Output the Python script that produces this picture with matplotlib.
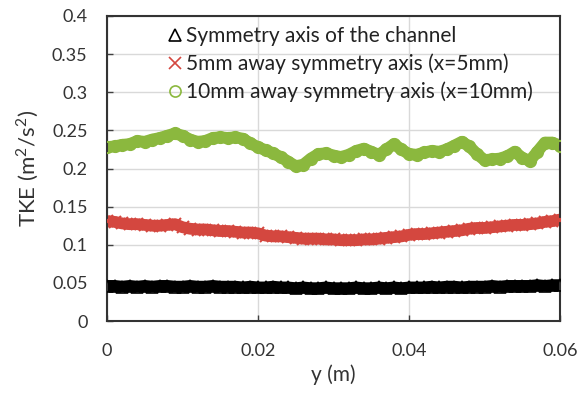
import matplotlib
matplotlib.use("Agg")
import matplotlib.pyplot as plt
from matplotlib.ticker import FuncFormatter

plt.rcParams['font.family'] = ['Lato', 'DejaVu Sans']
plt.rcParams['mathtext.fontset'] = 'custom'
plt.rcParams['mathtext.rm'] = 'Lato'

# y position (m)
y_pos = [0.000, 0.001, 0.002, 0.003, 0.004, 0.005, 0.006, 0.007, 0.008, 0.009,
         0.010, 0.011, 0.012, 0.013, 0.014, 0.015, 0.016, 0.017, 0.018, 0.019,
         0.020, 0.021, 0.022, 0.023, 0.024, 0.025, 0.026, 0.027, 0.028, 0.029,
         0.030, 0.031, 0.032, 0.033, 0.034, 0.035, 0.036, 0.037, 0.038, 0.039,
         0.040, 0.041, 0.042, 0.043, 0.044, 0.045, 0.046, 0.047, 0.048, 0.049,
         0.050, 0.051, 0.052, 0.053, 0.054, 0.055, 0.056, 0.057, 0.058, 0.059,
         0.060]

# TKE on the symmetry axis
tke_axis = [0.046, 0.046, 0.045, 0.046, 0.045, 0.046, 0.045, 0.046, 0.046, 0.045,
            0.045, 0.046, 0.045, 0.045, 0.046, 0.045, 0.045, 0.045, 0.044, 0.045,
            0.044, 0.044, 0.045, 0.044, 0.044, 0.043, 0.044, 0.043, 0.043, 0.044,
            0.043, 0.043, 0.043, 0.044, 0.043, 0.043, 0.044, 0.043, 0.044, 0.043,
            0.044, 0.044, 0.044, 0.045, 0.044, 0.045, 0.045, 0.044, 0.045, 0.045,
            0.045, 0.046, 0.045, 0.046, 0.046, 0.046, 0.046, 0.047, 0.046, 0.047,
            0.047]

# TKE 5 mm away
tke_5mm = [0.131, 0.130, 0.128, 0.127, 0.127, 0.126, 0.125, 0.125, 0.126, 0.127,
           0.123, 0.121, 0.120, 0.120, 0.119, 0.118, 0.118, 0.117, 0.116, 0.116,
           0.115, 0.112, 0.111, 0.111, 0.110, 0.109, 0.108, 0.108, 0.108, 0.107,
           0.107, 0.106, 0.106, 0.106, 0.107, 0.107, 0.108, 0.109, 0.110, 0.111,
           0.113, 0.114, 0.114, 0.115, 0.116, 0.117, 0.118, 0.119, 0.121, 0.122,
           0.122, 0.123, 0.124, 0.125, 0.126, 0.126, 0.127, 0.128, 0.130, 0.131,
           0.133]

# TKE 10 mm away
tke_10mm = [0.228, 0.229, 0.231, 0.232, 0.236, 0.235, 0.238, 0.240, 0.243, 0.246,
            0.243, 0.238, 0.235, 0.236, 0.240, 0.241, 0.240, 0.241, 0.239, 0.233,
            0.228, 0.224, 0.220, 0.215, 0.209, 0.203, 0.205, 0.213, 0.219, 0.220,
            0.217, 0.215, 0.218, 0.223, 0.226, 0.222, 0.218, 0.225, 0.232, 0.225,
            0.219, 0.218, 0.221, 0.223, 0.222, 0.225, 0.230, 0.235, 0.229, 0.219,
            0.211, 0.212, 0.213, 0.216, 0.222, 0.214, 0.210, 0.222, 0.234, 0.234,
            0.230]

labels = ["Symmetry axis of the channel",
          "5mm away symmetry axis (x=5mm)",
          "10mm away symmetry axis (x=10mm)"]
colors = ['black', '#d4473f', '#8bb83e']

fig = plt.figure(figsize=(5.82, 3.98), dpi=100)
ax = fig.add_axes([107/582, 77/398, 453/582, 305/398])

# dense overlapping markers form a solid band
for vals, c in zip([tke_axis, tke_5mm, tke_10mm], colors):
    ax.plot(y_pos, vals, color=c, linewidth=8.5, solid_capstyle='round', zorder=2)

ax.plot(y_pos, tke_axis, linestyle='none', marker='^', markersize=8,
        markerfacecolor='none', markeredgecolor='black', markeredgewidth=1.2,
        label=labels[0], zorder=3)
ax.plot(y_pos, tke_5mm, linestyle='none', marker='x', markersize=8,
        color=colors[1], markeredgewidth=1.5, label=labels[1], zorder=3)
ax.plot(y_pos, tke_10mm, linestyle='none', marker='o', markersize=8,
        markerfacecolor='none', markeredgecolor=colors[2], markeredgewidth=1.5,
        label=labels[2], zorder=3)

ax.set_xlim(0, 0.06)
ax.set_ylim(0, 0.4)
ax.set_xticks([0, 0.02, 0.04, 0.06])
ax.set_yticks([0, 0.05, 0.1, 0.15, 0.2, 0.25, 0.3, 0.35, 0.4])
fmt = FuncFormatter(lambda v, p: "%g" % round(v, 3))
ax.xaxis.set_major_formatter(fmt)
ax.yaxis.set_major_formatter(fmt)
ax.tick_params(axis='both', direction='in', length=4, width=1,
               colors='#404040', labelsize=13, labelcolor='#333333')
ax.tick_params(axis='x', pad=16)
ax.tick_params(axis='y', pad=14)
ax.grid(True, color='#d9d9d9', linewidth=1)
ax.set_axisbelow(True)
for s in ax.spines.values():
    s.set_color('#333333')
    s.set_linewidth(1.5)

ax.set_xlabel("y (m)", fontsize=15, color='#333333', labelpad=4)
ax.set_ylabel("TKE (m$^2$/s$^2$)", fontsize=16, color='#333333', labelpad=8)

leg = ax.legend(loc='upper left', bbox_to_anchor=(0.117, 0.995), frameon=False,
                fontsize=15, handlelength=0.6, handletextpad=0.25,
                labelspacing=0.37, borderaxespad=0, markerscale=1.0)
for h in leg.legend_handles:
    h.set_markeredgewidth(1.2)
for t in leg.get_texts():
    t.set_color('#222222')

fig.savefig("out.png", dpi=100)
